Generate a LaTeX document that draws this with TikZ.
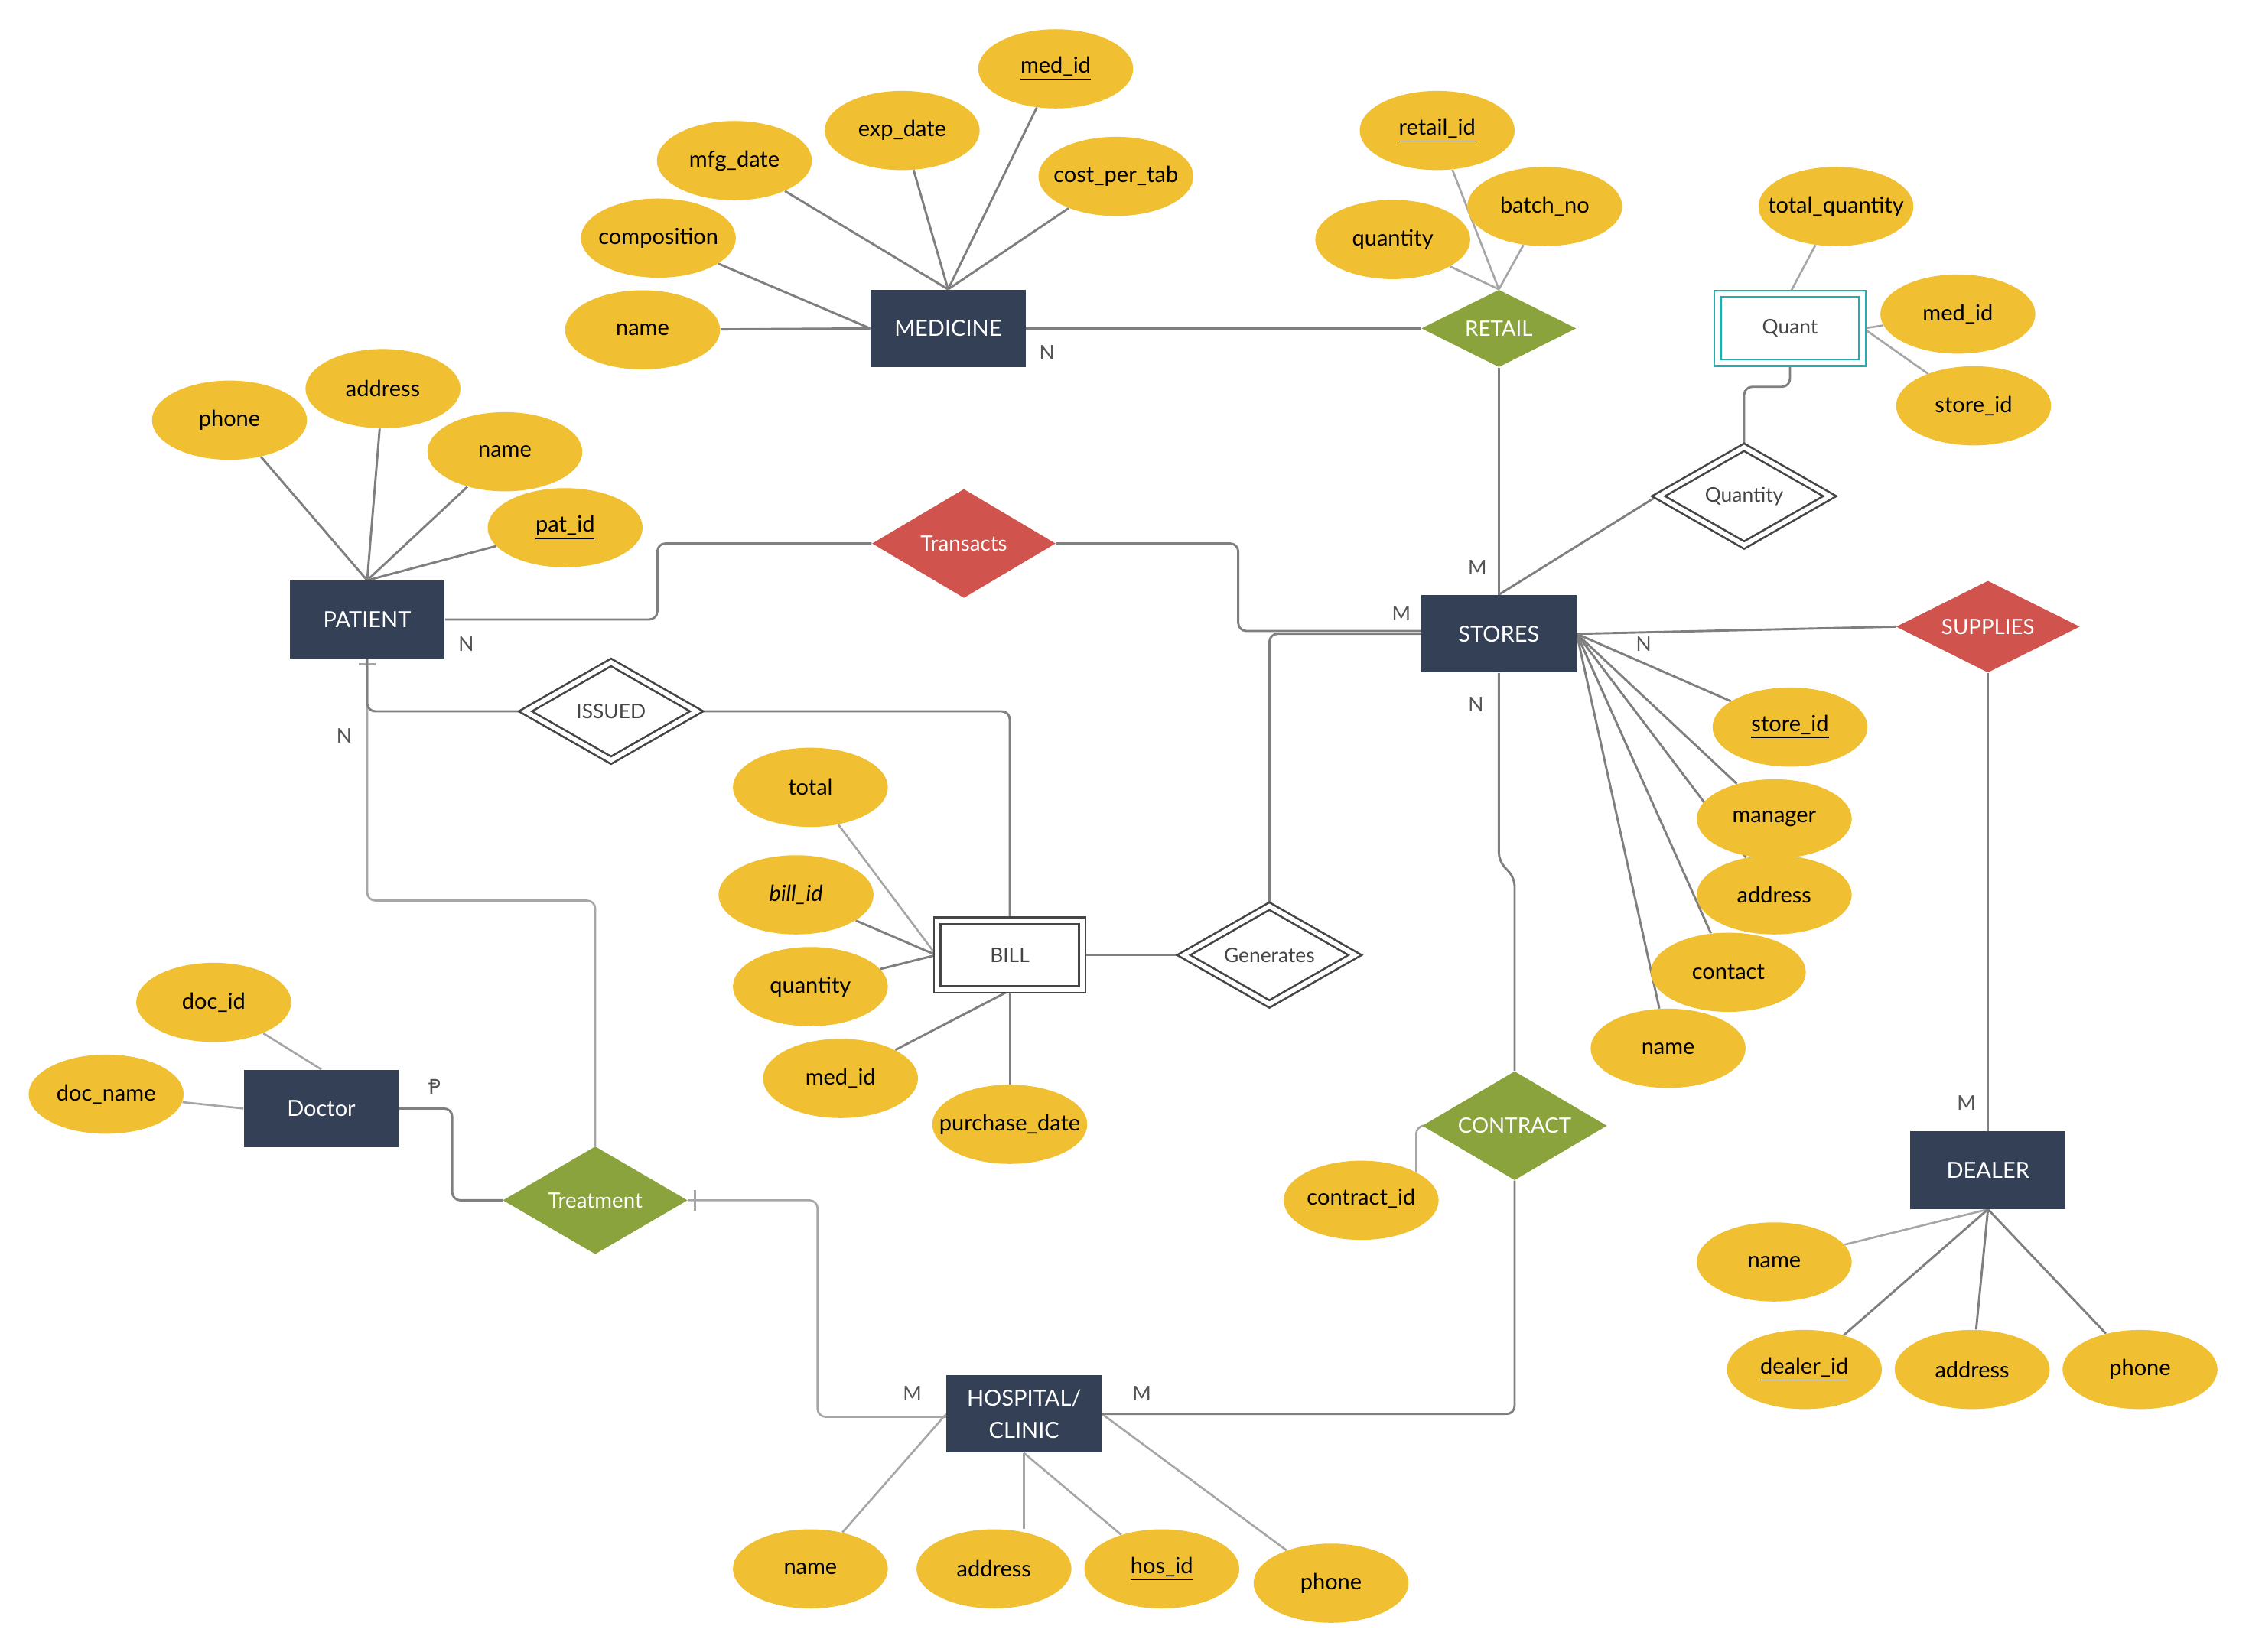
\documentclass[tikz,border=0pt]{standalone}
\usepackage{fontspec}
\setmainfont{Lato}
\newfontfamily\symfont{DejaVu Sans}
\usepackage{tikz}
\usetikzlibrary{shapes.geometric, positioning, calc, backgrounds}
\definecolor{navy}{HTML}{344056}
\definecolor{attrfill}{HTML}{F1BF32}
\definecolor{relgreen}{HTML}{8AA33C}
\definecolor{relred}{HTML}{D1534E}
\definecolor{tealedge}{HTML}{25ACAD}
\definecolor{darkedge}{HTML}{454545}
\definecolor{linedark}{HTML}{7F7F7F}
\definecolor{linelight}{HTML}{A6A6A6}
\definecolor{cardtext}{HTML}{555555}

\begin{document}
\begin{tikzpicture}[x=0.025cm, y=-0.025cm,
    entity/.style={rectangle, fill=navy, text=white, minimum width=2.7cm, minimum height=1.35cm,
                   align=center, font=\fontsize{11}{16}\selectfont},
    attr/.style={ellipse, fill=attrfill, minimum width=2.7cm, minimum height=1.38cm,
                 inner xsep=-14pt, inner ysep=0pt, font=\fontsize{11}{13}\selectfont},
    rel/.style={diamond, text=white, inner sep=0pt, font=\fontsize{10.5}{12}\selectfont},
    weak/.style={rectangle, double, double distance=2.2pt, line width=1pt, fill=white, text=darkedge,
                 minimum width=2.53cm, minimum height=1.2cm, font=\fontsize{10}{12}\selectfont},
    weakrel/.style={diamond, draw=darkedge, double, double distance=2.2pt, line width=1pt, fill=white,
                    text=darkedge, inner sep=0pt, aspect=1.75, minimum width=3.0cm, minimum height=1.72cm,
                    font=\fontsize{10}{12}\selectfont},
    link/.style={draw=linedark, line width=1.1pt, rounded corners=4pt},
    light/.style={draw=linelight, line width=1pt, rounded corners=4pt},
    card/.style={text=cardtext, inner sep=0pt, font=\fontsize{10}{12}\selectfont}
]
\useasboundingbox (0,0) rectangle (1568,1152);

% entities
\node[entity] (MEDICINE) at (661,229) {MEDICINE};
\node[entity] (PATIENT) at (256,432) {PATIENT};
\node[entity] (STORES) at (1045,442) {STORES};
\node[entity] (Doctor) at (224,773) {Doctor};
\node[entity] (HOSPITAL) at (714,986) {HOSPITAL/\\CLINIC};
\node[entity] (DEALER) at (1386,816) {DEALER};
\node[weak, draw=tealedge] (Quant) at (1248,229) {Quant};
\node[weak, draw=darkedge] (BILL) at (704,666) {BILL};

% relationships
\node[rel, fill=relgreen, aspect=2, minimum width=2.7cm, minimum height=1.35cm] (RETAIL) at (1045,229) {RETAIL};
\node[rel, fill=relred, aspect=1.68, minimum width=3.2cm, minimum height=1.9cm] (Transacts) at (672,379) {Transacts};
\node[rel, fill=relred, aspect=2, minimum width=3.2cm, minimum height=1.6cm] (SUPPLIES) at (1386,437) {SUPPLIES};
\node[rel, fill=relgreen, aspect=1.7, minimum width=3.22cm, minimum height=1.9cm] (CONTRACT) at (1056,785) {CONTRACT};
\node[rel, fill=relgreen, aspect=1.7, minimum width=3.22cm, minimum height=1.88cm] (Treatment) at (415,837) {Treatment};
\node[weakrel] (Quantity) at (1216,346) {Quantity};
\node[weakrel] (ISSUED) at (426,496) {ISSUED};
\node[weakrel] (Generates) at (885,666) {Generates};

% medicine attributes
\node[attr] (medId) at (736,48) {\underline{med\_id}};
\node[attr] (expDate) at (629,91) {exp\_date};
\node[attr] (mfgDate) at (512,112) {mfg\_date};
\node[attr] (costTab) at (778,123) {cost\_per\_tab};
\node[attr] (composition) at (459,166) {composition};
\node[attr] (medName) at (448,230) {name};

% retail and quant attributes
\node[attr] (retailId) at (1002,91) {\underline{retail\_id}};
\node[attr] (batchNo) at (1077,144) {batch\_no};
\node[attr] (retailQty) at (971,167) {quantity};
\node[attr] (totalQty) at (1280,144) {total\_quantity};
\node[attr] (quantMed) at (1365,219) {med\_id};
\node[attr] (quantStore) at (1376,283) {store\_id};

% patient attributes
\node[attr] (patPhone) at (160,293) {phone};
\node[attr] (patAddress) at (267,271) {address};
\node[attr] (patName) at (352,315) {name};
\node[attr] (patId) at (394,368) {\underline{pat\_id}};

% bill attributes
\node[attr] (billTotal) at (565,549) {total};
\node[attr] (billId) at (555,624) {\textit{bill\_id}};
\node[attr] (billQty) at (565,688) {quantity};
\node[attr] (billMed) at (586,752) {med\_id};
\node[attr] (purchase) at (704,784) {purchase\_date};

% doctor attributes
\node[attr] (docId) at (149,699) {doc\_id};
\node[attr] (docName) at (74,763) {doc\_name};

% hospital attributes
\node[attr] (hosName) at (565,1094) {name};
\node[attr] (hosAddress) at (693,1094) {address};
\node[attr] (hosId) at (810,1094) {\underline{hos\_id}};
\node[attr] (hosPhone) at (928,1104) {phone};

% contract attribute
\node[attr] (contractId) at (949,837) {\underline{contract\_id}};

% stores attributes
\node[attr] (storeId) at (1248,507) {\underline{store\_id}};
\node[attr] (manager) at (1237,571) {manager};
\node[attr] (storeAddress) at (1237,624) {address};
\node[attr] (contact) at (1205,678) {contact};
\node[attr] (storeName) at (1163,731) {name};

% dealer attributes
\node[attr] (dealerName) at (1237,880) {name};
\node[attr] (dealerId) at (1258,955) {\underline{dealer\_id}};
\node[attr] (dealerAddress) at (1375,955) {address};
\node[attr] (dealerPhone) at (1492,955) {phone};

% cardinalities
\node[card] (cMedRetail) at (730,246) {N};
\node[card] (cStoreRetail) at (1030,396) {M};
\node[card] (cPatTrans) at (325,449) {N};
\node[card] (cStoreTrans) at (977,428) {M};
\node[card] (cStoreSup) at (1146,449) {N};
\node[card] (cStoreCon) at (1029,491) {N};
\node[card] (cDealer) at (1371,769) {M};
\node[card] (cPatTreat) at (240,513) {N};
\node[card] (cDocTreat) at (303,758) {\symfont Ᵽ};
\node[card] (cHosTreat) at (636,972) {M};
\node[card] (cHosCon) at (796,972) {M};

\begin{scope}[on background layer]
% attribute links
\draw[link] (medName) -- (MEDICINE.west);
\draw[link] (composition) -- (MEDICINE.west);
\draw[link] (mfgDate) -- (MEDICINE.north);
\draw[link] (expDate) -- (MEDICINE.north);
\draw[link] (medId) -- (MEDICINE.north);
\draw[link] (costTab) -- (MEDICINE.north);

\draw[light] (retailId) -- (RETAIL.north);
\draw[light] (retailQty) -- (RETAIL.north);
\draw[light] (batchNo) -- (RETAIL.north);
\draw[light] (totalQty) -- (Quant.north);
\draw[light] (quantMed) -- (Quant.east);
\draw[light] (quantStore) -- (Quant.east);

\draw[link] (patPhone) -- (PATIENT.north);
\draw[link] (patAddress) -- (PATIENT.north);
\draw[link] (patName) -- (PATIENT.north);
\draw[link] (patId) -- (PATIENT.north);

\draw[light] (billTotal) -- (BILL.west);
\draw[link] (billId) -- (BILL.west);
\draw[link] (billQty) -- (BILL.west);
\draw[link] (billMed) -- (BILL.south);
\draw[link] (purchase) -- (BILL.south);

\draw[light] (docId) -- (Doctor.north);
\draw[light] (docName) -- (Doctor.west);

\draw[light] (hosName) -- (HOSPITAL.west);
\draw[light] (hosAddress.north -| HOSPITAL.south) -- (HOSPITAL.south);
\draw[light] (hosId) -- (HOSPITAL.south);
\draw[light] (hosPhone) -- (HOSPITAL.east);

\draw[light] (contractId.north east) |- (CONTRACT.west);

\draw[link] (storeId) -- (STORES.east);
\draw[link] (manager) -- (STORES.east);
\draw[link] (storeAddress) -- (STORES.east);
\draw[link] (contact) -- (STORES.east);
\draw[link] (storeName) -- (STORES.east);

\draw[light] (dealerName) -- (DEALER.south);
\draw[link] (dealerId) -- (DEALER.south);
\draw[link] (dealerAddress) -- (DEALER.south);
\draw[link] (dealerPhone) -- (DEALER.south);

% relationship links
\coordinate (bendT) at (256,628);
\draw[light] (PATIENT.south) -- (bendT) -| (Treatment.north);
\draw[light] ($(PATIENT.south)+(-6,4)$) -- ++(12,0);
\draw[link] (PATIENT.south) |- (ISSUED.west);
\draw[link] (ISSUED.east) -| (BILL.north);
\draw[link] (BILL.east) -- (Generates.west);
\draw[link] (Generates.north) |- (STORES.west);
\draw[link] (PATIENT.east) -- ++(148,0) |- (Transacts.west);
\draw[link] (Transacts.east) -- ++(127,0) |- ($(STORES.west)+(0,-2)$);
\draw[link] (MEDICINE.east) -- (RETAIL.west);
\draw[link] (RETAIL.south) -- (STORES.north);
\draw[link] (Quant.south) -- ++(0,16) -| (Quantity.north);
\draw[link] (Quantity.west) -- (STORES.north);
\draw[link] (STORES.east) -- (SUPPLIES.west);
\draw[link] (SUPPLIES.south) -- (DEALER.north);
\draw[link] (STORES.south) -- ++(0,131) -- ++(11,12) -- (CONTRACT.north);
\draw[link] (CONTRACT.south) |- (HOSPITAL.east);
\draw[link] (Doctor.east) -- ++(37,0) |- (Treatment.west);
\coordinate (bendH) at (570,837);
\draw[light] (Treatment.east) -- (bendH) |- ($(HOSPITAL.west)+(0,2)$);
\draw[light] ($(Treatment.east)+(5,-7)$) -- ++(0,14);
\end{scope}
\end{tikzpicture}
\end{document}
